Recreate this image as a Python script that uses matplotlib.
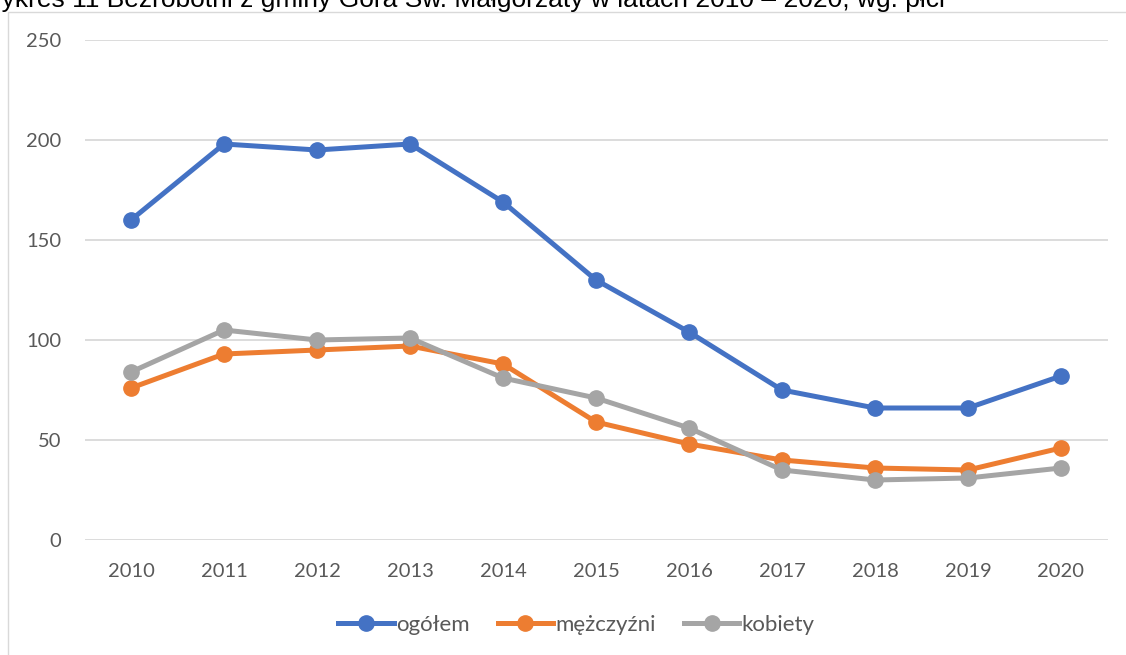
import matplotlib.pyplot as plt
from matplotlib.patches import Rectangle

years = ["2010", "2011", "2012", "2013", "2014", "2015", "2016", "2017", "2018", "2019", "2020"]
ogolem = [160, 198, 195, 198, 169, 130, 104, 75, 66, 66, 82]
mezczyzni = [76, 93, 95, 97, 88, 59, 48, 40, 36, 35, 46]
kobiety = [84, 105, 100, 101, 81, 71, 56, 35, 30, 31, 36]

plt.rcParams["font.family"] = ["Lato", "DejaVu Sans"]

fig = plt.figure(figsize=(11.26, 6.55), dpi=100)
ax = fig.add_axes([84.5 / 1126, 1 - 540 / 655, 1023 / 1126, 500 / 655])

x = range(len(years))
ax.plot(x, ogolem, color="#4472C4", lw=3.6, marker="o", ms=11, label="ogółem", zorder=3)
ax.plot(x, mezczyzni, color="#ED7D31", lw=3.6, marker="o", ms=11, label="mężczyźni", zorder=3)
ax.plot(x, kobiety, color="#A5A5A5", lw=3.6, marker="o", ms=11, label="kobiety", zorder=3)

ax.set_xlim(-0.5, len(years) - 0.5)
ax.set_ylim(0, 250)
ax.set_yticks([0, 50, 100, 150, 200, 250])
ax.set_xticks(list(x))
ax.set_xticklabels(years)
ax.grid(axis="y", color="#D9D9D9", lw=1.3)
ax.set_axisbelow(True)
for s in ax.spines.values():
    s.set_visible(False)
ax.tick_params(length=0, labelsize=14.5, labelcolor="#595959", pad=16.5)

leg = fig.legend(loc="center", bbox_to_anchor=(576.5 / 1126, 1 - 625 / 655), ncol=3,
                 frameon=False, fontsize=16, handlelength=2.5, handletextpad=0.1,
                 columnspacing=1.25)
for t in leg.get_texts():
    t.set_color("#595959")

# chart area border
fig.patches.append(Rectangle((8 / 1126, -0.1), 1.2, 1 - 12 / 655 + 0.1, transform=fig.transFigure,
                             fill=False, edgecolor="#D9D9D9", lw=1))

fig.text(-23 / 1126, 1 - 7.5 / 655,
         "Wykres 11 Bezrobotni z gminy Góra Św. Małgorzaty w latach 2010 – 2020, wg. płci",
         fontsize=19, family="Liberation Sans", va="baseline", ha="left", color="black")

fig.savefig("out.png", dpi=100)
